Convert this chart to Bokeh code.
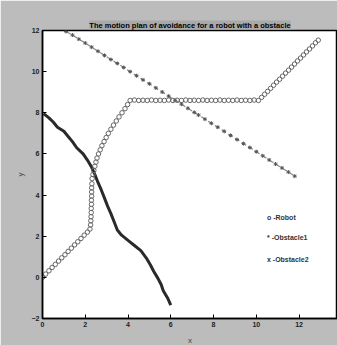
from bokeh.plotting import figure
from bokeh.models import Range1d, FixedTicker, Title, Label
from bokeh.embed import file_html
from bokeh.resources import INLINE

# Robot path (circles)
robot_x = [0.0, 0.15, 0.3, 0.45, 0.6, 0.75, 0.9, 1.05, 1.2, 1.35, 1.5, 1.65, 1.8, 1.95, 2.1, 2.22,
           2.25, 2.26, 2.27, 2.28, 2.28, 2.29, 2.29, 2.3, 2.3, 2.3, 2.31,
           2.32, 2.36, 2.4, 2.45, 2.5, 2.55, 2.62, 2.7, 2.78, 2.88, 2.98, 3.08, 3.2, 3.32, 3.45, 3.58, 3.72, 3.86, 3.98, 4.1,
           4.3, 4.5, 4.7, 4.9, 5.1, 5.3, 5.5, 5.7, 5.9, 6.1, 6.3, 6.5, 6.7, 6.9, 7.1, 7.3, 7.5, 7.7, 7.9, 8.1,
           8.3, 8.5, 8.7, 8.9, 9.1, 9.3, 9.5, 9.7, 9.9, 10.1,
           10.25, 10.39, 10.53, 10.67, 10.81, 10.95, 11.09, 11.23, 11.37, 11.51, 11.65, 11.79, 11.93, 12.07, 12.21, 12.35, 12.49, 12.63, 12.77, 12.9]
robot_y = [0.0, 0.16, 0.32, 0.48, 0.63, 0.79, 0.95, 1.1, 1.26, 1.42, 1.58, 1.73, 1.89, 2.05, 2.2, 2.35,
           2.55, 2.75, 2.95, 3.15, 3.35, 3.55, 3.75, 3.95, 4.15, 4.35, 4.55,
           4.8, 5.0, 5.2, 5.4, 5.6, 5.8, 6.0, 6.2, 6.4, 6.6, 6.8, 7.0, 7.2, 7.4, 7.6, 7.8, 8.0, 8.2, 8.4, 8.6,
           8.62, 8.6, 8.61, 8.6, 8.62, 8.6, 8.61, 8.6, 8.62, 8.6, 8.61, 8.6, 8.62, 8.6, 8.61, 8.6, 8.62, 8.6, 8.61, 8.6,
           8.62, 8.6, 8.61, 8.6, 8.62, 8.6, 8.61, 8.6, 8.62, 8.6,
           8.75, 8.9, 9.04, 9.19, 9.34, 9.49, 9.63, 9.78, 9.93, 10.07, 10.22, 10.37, 10.52, 10.66, 10.81, 10.96, 11.1, 11.25, 11.4, 11.53]

# Obstacle 1 (stars)
obs1_x = [1.1, 1.4, 1.7, 2.0, 2.3, 2.6, 2.9, 3.2, 3.5, 3.8, 4.1, 4.4, 4.7, 5.0, 5.3, 5.6, 5.9, 6.2, 6.5,
          6.8, 7.1, 7.3, 7.6, 7.9, 8.2, 8.5, 8.8, 9.1, 9.4, 9.7, 10.0, 10.3, 10.6, 10.9, 11.2, 11.5, 11.8]
obs1_y = [11.95, 11.78, 11.58, 11.39, 11.19, 10.99, 10.79, 10.59, 10.4, 10.2, 10.0, 9.8, 9.6, 9.41, 9.21, 9.01,
          8.81, 8.61, 8.42, 8.22, 8.02, 7.89, 7.69, 7.49, 7.3, 7.1, 6.9, 6.7, 6.5, 6.31, 6.11, 5.91, 5.71, 5.51,
          5.32, 5.12, 4.92]

# Obstacle 2 (thick line)
obs2_x = [0.05, 0.3, 0.5, 0.7, 1.0, 1.2, 1.4, 1.6, 1.9, 2.1, 2.3, 2.45, 2.6, 2.75, 2.9, 3.05, 3.2, 3.35,
          3.5, 3.7, 4.0, 4.3, 4.6, 4.85, 5.05, 5.2, 5.4, 5.55, 5.65, 5.85, 6.0]
obs2_y = [7.96, 7.75, 7.55, 7.3, 7.1, 6.85, 6.6, 6.3, 6.0, 5.7, 5.35, 5.0, 4.6, 4.25, 3.85, 3.45, 3.1, 2.7,
          2.3, 2.05, 1.8, 1.55, 1.3, 0.95, 0.6, 0.3, -0.05, -0.35, -0.65, -1.0, -1.35]

x_ticks = [0, 2, 4, 6, 8, 10, 12]
y_ticks = [-2, 0, 2, 4, 6, 8, 10, 12]
title_text = "The motion plan of avoidance for a robot with a obstacle"
legend_texts = ["o -Robot", "* -Obstacle1", "x -Obstacle2"]

p = figure(frame_width=295, frame_height=288, output_backend="svg", toolbar_location=None,
           x_range=Range1d(0, 13.8), y_range=Range1d(-2, 12),
           min_border_left=42, min_border_right=0, min_border_bottom=27, min_border_top=30)
p.border_fill_color = "#bcbcbc"
p.background_fill_color = "white"
p.outline_line_color = "black"
p.outline_line_width = 1.5
p.grid.visible = False

t = Title(text=title_text, align="center", text_font_size="7.5px", text_font="Liberation Sans",
          text_color="black", background_fill_color="#a9a9a9", standoff=2, offset=0)
p.add_layout(t, "above")

for ax in (p.xaxis[0], p.yaxis[0]):
    ax.major_tick_in = 4
    ax.major_tick_out = 0
    ax.minor_tick_line_color = None
    ax.axis_line_color = "black"
    ax.axis_line_width = 1.5
    ax.major_label_text_font_size = "7px"
    ax.major_label_text_font_style = "bold"
    ax.major_label_text_color = "#222222"
    ax.axis_label_text_font_size = "8px"
    ax.axis_label_text_font_style = "normal"
    ax.major_label_standoff = 3
p.xaxis.ticker = FixedTicker(ticks=x_ticks)
p.yaxis.ticker = FixedTicker(ticks=y_ticks)
p.xaxis.axis_label = "x"
p.yaxis.axis_label = "y"
p.xaxis.axis_label_standoff = 6
p.yaxis.axis_label_standoff = 4

p.line(obs1_x, obs1_y, line_color="#8a8a8a", line_width=1.2, line_dash="5 3")
p.scatter(obs1_x, obs1_y, marker="asterisk", size=4, line_color="#555555", line_width=1)

p.line(obs2_x, obs2_y, line_color="#2a2a2a", line_width=3)

p.scatter(robot_x, robot_y, marker="circle", size=4.5, fill_color=None, line_color="#666666", line_width=1)

ly = [2.9, 1.95, 0.85]
for txt, yy in zip(legend_texts, ly):
    p.add_layout(Label(x=10.5, y=yy, text=txt, text_font_size="7px", text_font_style="bold",
                       text_color="#333333", text_baseline="middle"))

open("out.html", "w").write(file_html(p, INLINE))
